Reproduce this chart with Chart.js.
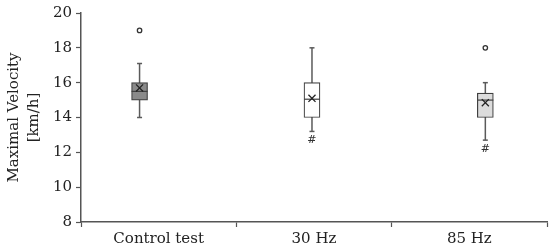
<!DOCTYPE html>
<html lang="en">
<head>
    <meta charset="UTF-8">
    <title>Maximal Velocity</title>
    <script src="https://cdn.jsdelivr.net/npm/chart.js@4.4.0/dist/chart.umd.min.js"></script>
    <style>
        body { margin: 0; background: #fff; }
        #wrap { width: 550px; height: 251px; position: relative; }
    </style>
</head>
<body>
    <div id="wrap"><canvas id="boxChart"></canvas></div>

    <script>
        // categories and box stats
        const categories = ['Control test', '30 Hz', '85 Hz'];
        const boxX = [0.377, 1.487, 2.603];          // box centre, in category units
        const whiskerHigh = [17.1, 18.0, 16.0];
        const q3 = [16.0, 16.0, 15.4];
        const median = [15.5, 15.05, 15.0];
        const q1 = [15.0, 14.0, 14.0];
        const whiskerLow = [14.0, 13.2, 12.7];
        const mean = [15.7, 15.1, 14.85];
        const outliers = [[19], [], [18]];
        const marks = ['', '#', '#'];
        const boxFill = ['#8a8a8a', '#ffffff', '#dcdcdc'];
        const yTicks = [8, 10, 12, 14, 16, 18, 20];

        const FONT = { family: 'DejaVu Serif', size: 15 };
        const AXIS = '#555555';

        // whiskers: one line per box, drawn under the box
        const whiskerSets = boxX.map((x, i) => ({
            type: 'scatter',
            data: [{ x: x, y: whiskerLow[i] }, { x: x, y: whiskerHigh[i] }],
            showLine: true,
            borderColor: '#5a5a5a',
            borderWidth: 1.5,
            pointStyle: 'line',
            pointRadius: 2.5,
            pointBorderColor: '#5a5a5a',
            pointBorderWidth: 1.5,
            order: 3
        }));

        const hashPlugin = {
            id: 'hashMarks',
            afterDatasetsDraw(chart) {
                const { ctx, scales } = chart;
                ctx.save();
                ctx.font = '11px "DejaVu Serif"';
                ctx.fillStyle = '#333';
                ctx.textAlign = 'center';
                ctx.textBaseline = 'top';
                marks.forEach((m, i) => {
                    if (!m) return;
                    ctx.fillText(m, scales.x.getPixelForValue(boxX[i]), scales.y.getPixelForValue(whiskerLow[i]) + 3);
                });
                ctx.restore();
            }
        };

        const isEdge = (c) => c.tick && Number.isInteger(c.tick.value);

        const chart = new Chart(document.getElementById('boxChart'), {
            type: 'scatter',
            data: {
                datasets: [
                    ...whiskerSets,
                    {
                        type: 'bar',
                        data: boxX.map((x, i) => ({ x: x, y: [q1[i], q3[i]] })),
                        backgroundColor: boxFill,
                        borderColor: '#404040',
                        borderWidth: 1.2,
                        borderSkipped: false,
                        barThickness: 16,
                        order: 2
                    },
                    {
                        data: boxX.map((x, i) => ({ x: x, y: median[i] })),
                        pointStyle: 'line',
                        pointRadius: 8,
                        pointBorderColor: '#404040',
                        pointBorderWidth: 1.2,
                        order: 1
                    },
                    {
                        data: boxX.map((x, i) => ({ x: x, y: mean[i] })),
                        pointStyle: 'crossRot',
                        pointRadius: 5,
                        pointBorderColor: '#222',
                        pointBorderWidth: 1.3,
                        order: 0
                    },
                    {
                        data: boxX.flatMap((x, i) => outliers[i].map(v => ({ x: x, y: v }))),
                        pointStyle: 'circle',
                        pointRadius: 2.2,
                        pointBackgroundColor: '#fff',
                        pointBorderColor: '#333',
                        pointBorderWidth: 1.3,
                        order: 0
                    }
                ]
            },
            options: {
                responsive: true,
                maintainAspectRatio: false,
                animation: false,
                layout: { autoPadding: false, padding: { top: 10, right: 3, bottom: 0, left: 0 } },
                plugins: { legend: { display: false }, tooltip: { enabled: false } },
                scales: {
                    x: {
                        type: 'linear',
                        min: 0,
                        max: 3,
                        offset: false,
                        afterBuildTicks: (scale) => {
                            scale.ticks = [0, 0.5, 1, 1.5, 2, 2.5, 3].map(v => ({ value: v }));
                        },
                        afterFit: (scale) => {
                            scale.height = 29;
                            scale.paddingLeft = 0;
                            scale.paddingRight = 0;
                        },
                        ticks: {
                            autoSkip: false,
                            maxRotation: 0,
                            padding: 3,
                            color: '#222',
                            font: FONT,
                            callback: (v) => Number.isInteger(v) ? '' : categories[Math.floor(v)]
                        },
                        grid: {
                            offset: false,
                            drawOnChartArea: false,
                            tickLength: 5,
                            tickWidth: 1.2,
                            tickColor: (c) => isEdge(c) ? AXIS : 'rgba(0,0,0,0)'
                        },
                        border: { color: AXIS, width: 1.5 }
                    },
                    y: {
                        min: 8,
                        max: 20,
                        afterBuildTicks: (scale) => {
                            scale.ticks = yTicks.map(v => ({ value: v }));
                        },
                        afterFit: (scale) => { scale.width = 81; },
                        ticks: { color: '#222', font: FONT, padding: 4 },
                        grid: { drawOnChartArea: false, tickLength: 5, tickColor: AXIS, tickWidth: 1.2 },
                        border: { color: AXIS, width: 1.5 },
                        title: {
                            display: true,
                            text: ['Maximal Velocity', '[km/h]'],
                            color: '#222',
                            font: { family: 'DejaVu Serif', size: 15, lineHeight: 1.35 },
                            padding: { top: 4, bottom: 0 }
                        }
                    }
                }
            },
            plugins: [hashPlugin]
        });
    </script>
</body>
</html>
